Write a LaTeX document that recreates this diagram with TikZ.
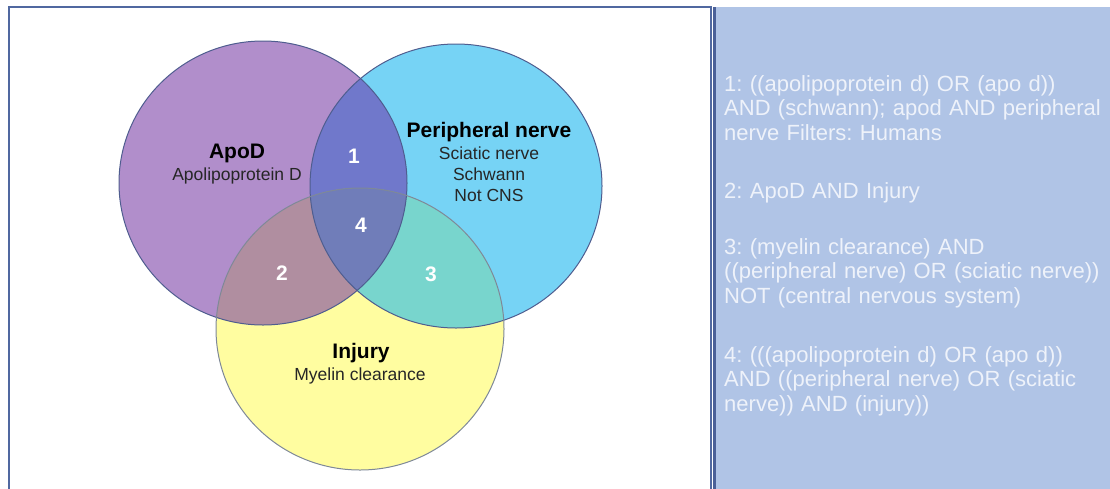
\documentclass[tikz,border=0pt]{standalone}
\usepackage{fontspec}
\setmainfont{Liberation Sans}
\frenchspacing

\definecolor{apodfill}{HTML}{B18ECB}
\definecolor{nervefill}{HTML}{76D3F5}
\definecolor{injuryfill}{HTML}{FFFDA0}
\definecolor{zoneone}{HTML}{7078CB}
\definecolor{zonetwo}{HTML}{B08EA0}
\definecolor{zonethree}{HTML}{78D5CD}
\definecolor{zonefour}{HTML}{707DB9}
\definecolor{ringline}{HTML}{4F5D8F}
\definecolor{injuryline}{HTML}{7E8898}
\definecolor{framecol}{HTML}{5068A0}
\definecolor{panelfill}{HTML}{B0C4E6}
\definecolor{panelline}{HTML}{4A6098}
\definecolor{querytext}{HTML}{EEF2FA}

\newcommand\apodshape{(apod) ellipse [x radius=144, y radius=142]}
\newcommand\nerveshape{(nerve) ellipse [x radius=146, y radius=142]}
\newcommand\injuryshape{(injury) ellipse [x radius=144, y radius=141]}

\begin{document}
\begin{tikzpicture}[x=1pt,y=-1pt]
\tikzstyle{every node}+=[inner sep=0pt]
\tikzstyle{ring}=[draw=ringline, line width=1pt]
\tikzstyle{settitle}=[font=\fontsize{21}{24}\selectfont\bfseries, anchor=base]
\tikzstyle{setnote}=[font=\fontsize{17.5}{21}\selectfont, text=black!85, anchor=base]
\tikzstyle{zone}=[font=\fontsize{21}{24}\selectfont\bfseries, text=white, anchor=base]
\tikzstyle{query}=[font=\fontsize{22}{24.5}\selectfont, text=querytext, anchor=base west, align=left, text width=385pt]
\useasboundingbox (0,0) rectangle (1110,488);
\draw [framecol, line width=2pt] (9,490) -- (9,7) -- (711,7) -- (711,490);
\fill [panelfill] (713,7) rectangle (1110,490);
\draw [panelline, line width=3pt] (714.5,7) -- (714.5,490);
\coordinate (apod) at (263,183);
\coordinate (nerve) at (456,186);
\coordinate (injury) at (360,329);
\fill [apodfill] \apodshape;
\fill [nervefill] \nerveshape;
\fill [injuryfill] \injuryshape;
\begin{scope}
\clip \apodshape;
\fill [zoneone] \nerveshape;
\fill [zonetwo] \injuryshape;
\end{scope}
\begin{scope}
\clip \nerveshape;
\fill [zonethree] \injuryshape;
\end{scope}
\begin{scope}
\clip \apodshape;
\clip \nerveshape;
\fill [zonefour] \injuryshape;
\end{scope}
\draw [ring] \apodshape;
\draw [ring] \nerveshape;
\draw [ring, draw=injuryline] \injuryshape;
\node [settitle] (apodT) at (237,158) {ApoD};
\node [setnote] (apodN) at (237,180) {Apolipoprotein D};
\node [settitle] (nerveT) at (489,137) {Peripheral nerve};
\node [setnote] (nerveA) at (489,159) {Sciatic nerve};
\node [setnote] (nerveB) at (489,180) {Schwann};
\node [setnote] (nerveC) at (489,201) {Not CNS};
\node [settitle] (injuryT) at (361,358) {Injury};
\node [setnote] (injuryN) at (360,380) {Myelin clearance};
\node [zone] (zone1) at (354,163) {1};
\node [zone] (zone4) at (361,232) {4};
\node [zone] (zone2) at (282,280) {2};
\node [zone] (zone3) at (431,281) {3};
\node [query] (query1) at (724,91) {1: ((apolipoprotein d) OR (apo d))\\AND (schwann); apod AND peripheral\\nerve Filters: Humans};
\node [query] (query2) at (724,198) {2: ApoD AND Injury};
\node [query] (query3) at (724,254) {3: (myelin clearance) AND\\((peripheral nerve) OR (sciatic nerve))\\NOT (central nervous system)};
\node [query] (query4) at (724,362) {4: (((apolipoprotein d) OR (apo d))\\AND ((peripheral nerve) OR (sciatic\\nerve)) AND (injury))};
\end{tikzpicture}
\end{document}
